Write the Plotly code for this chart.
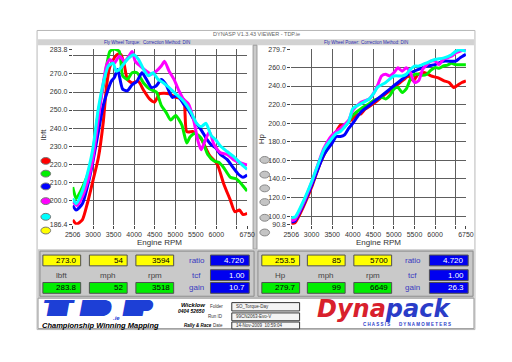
import plotly.graph_objects as go

# ---------------- data ----------------
run_colors = ["#ff0000", "#00ee00", "#0000ff", "#ff00ff", "#00ffff"]

tq_red_rpm = [2506, 2600, 2740, 2860, 3000, 3130, 3250, 3330, 3410, 3520, 3600, 3680, 3760, 3836, 3950, 4100, 4230, 4380, 4500, 4620, 4850, 5010, 5200, 5280, 5440, 5630, 5830, 6020, 6180, 6340, 6450, 6560, 6650, 6750]
tq_red = [189, 186.7, 189, 198, 211, 223.5, 243.5, 263.5, 274, 279, 281, 280.7, 275, 267, 265, 266, 261, 256, 254.4, 259, 259, 257, 256, 238, 238, 234, 225, 220, 209, 200, 193.6, 194.5, 192, 192.7]

tq_green_rpm = [2506, 2530, 2590, 2740, 2900, 3000, 3130, 3250, 3330, 3410, 3518, 3640, 3720, 3836, 3950, 4070, 4230, 4380, 4540, 4660, 4770, 4890, 5010, 5160, 5280, 5360, 5480, 5630, 5790, 5945, 6060, 6180, 6340, 6490, 6610, 6750]
tq_green = [207.2, 205, 200.8, 207, 216, 227, 249, 263.5, 274.4, 282.5, 283.8, 282.5, 269, 267, 270.7, 270.7, 265, 261.6, 260, 252.6, 249, 244.4, 247, 241.7, 231.7, 235, 237, 234.4, 225.4, 221.7, 221, 218, 212.7, 211.7, 209, 205]

tq_blue_rpm = [2506, 2590, 2740, 2900, 3000, 3130, 3250, 3370, 3445, 3520, 3600, 3720, 3836, 3950, 4070, 4190, 4300, 4420, 4540, 4660, 4770, 4930, 5050, 5200, 5320, 5480, 5630, 5750, 5870, 5985, 6100, 6260, 6410, 6530, 6650, 6750]
tq_blue = [197, 194.5, 198, 211, 221.7, 238, 252.6, 261.6, 266, 268, 272.5, 261.6, 260.7, 264, 266, 270.7, 267, 262.5, 263.5, 267, 264.4, 257, 258, 253.5, 250, 243.5, 239, 234.4, 230.8, 229, 225.4, 222.6, 218, 214.5, 212.7, 214]

tq_mag_rpm = [2506, 2610, 2740, 2900, 3000, 3130, 3250, 3330, 3410, 3520, 3640, 3760, 3875, 3950, 4030, 4150, 4300, 4420, 4540, 4660, 4740, 4850, 4970, 5090, 5200, 5320, 5440, 5555, 5630, 5710, 5830, 5945, 6100, 6260, 6410, 6570, 6750]
tq_mag = [199, 197, 201.8, 212.6, 223.5, 245, 265, 275, 278, 276, 280, 277, 280, 282.5, 277, 274.4, 271.6, 269.8, 271.6, 274.4, 277, 271.6, 267, 260.7, 256, 253.5, 245.3, 232.6, 228, 232, 238, 230.8, 226.3, 225.4, 222.6, 220.8, 219.5]

tq_cyan_rpm = [2506, 2590, 2740, 2900, 3000, 3130, 3250, 3370, 3490, 3560, 3640, 3760, 3875, 3990, 4110, 4230, 4350, 4460, 4580, 4700, 4850, 5010, 5160, 5280, 5400, 5520, 5630, 5750, 5870, 5985, 6100, 6260, 6410, 6570, 6750]
tq_cyan = [201, 198, 205, 218, 229, 250.8, 265, 274.4, 276, 271.6, 272.5, 276, 279, 280.7, 278, 272.5, 269, 270.7, 267, 265.3, 262.5, 259, 256, 252.6, 248, 242.6, 240.8, 242.6, 236, 233.5, 230, 227, 224.4, 220.8, 217]

hp_red_rpm = [2506, 2600, 2800, 3000, 3200, 3400, 3500, 3600, 3700, 3800, 3900, 4000, 4100, 4200, 4300, 4400, 4500, 4600, 4800, 5000, 5150, 5250, 5350, 5470, 5590, 5750, 5900, 6060, 6220, 6340, 6450, 6530, 6650, 6750]
hp_red = [91.5, 93, 110, 131, 156, 175, 185.6, 191, 198, 197, 201.5, 205, 209, 210, 215, 218, 221, 224.4, 231.5, 238.5, 243.8, 247.3, 250.8, 245.6, 252.6, 254.4, 250.8, 249, 245.6, 243.8, 238.5, 240.3, 243.8, 245.6]

hp_green_rpm = [2506, 2600, 2800, 3000, 3300, 3500, 3600, 3700, 3800, 4000, 4200, 4400, 4500, 4600, 4700, 4800, 4900, 5000, 5100, 5200, 5300, 5400, 5500, 5600, 5700, 5800, 5900, 6000, 6100, 6200, 6300, 6400, 6500, 6600, 6750]
hp_green = [97, 98, 114, 135, 170, 184, 191, 192.7, 196, 208.5, 215.6, 221, 224.4, 226, 228, 226, 229.7, 236.8, 238.5, 233, 236.8, 247.3, 252.6, 252.6, 251.5, 252.6, 257, 260, 259, 261.5, 262.5, 264.5, 263, 263, 263]

hp_blue_rpm = [2506, 2600, 2800, 3000, 3300, 3500, 3600, 3700, 3800, 3900, 4000, 4200, 4400, 4500, 4600, 4800, 5000, 5200, 5400, 5500, 5600, 5800, 6000, 6200, 6400, 6500, 6600, 6750]
hp_blue = [93.5, 95, 112, 133, 166, 178.6, 185.6, 185.6, 187.4, 194.4, 199.7, 212, 219, 222.6, 226, 233, 240.3, 247.3, 254.4, 256, 258, 261.4, 263, 266.7, 266.7, 266.7, 270, 274]

hp_mag_rpm = [2506, 2600, 2800, 3000, 3300, 3500, 3700, 3900, 4000, 4200, 4400, 4500, 4600, 4700, 4800, 4900, 5000, 5100, 5200, 5300, 5400, 5500, 5600, 5700, 5800, 5900, 6000, 6100, 6200, 6400, 6500, 6600, 6750]
hp_mag = [95, 96.5, 114, 136, 173, 187.4, 194.4, 203, 213.8, 222.6, 226, 231.5, 240.3, 250.8, 252.6, 250.8, 254.4, 259.6, 256, 259.6, 254.4, 243.8, 245.6, 258, 263, 266.7, 266.7, 263, 268.5, 272, 275.5, 277.3, 279.7]

hp_cyan_rpm = [2506, 2600, 2800, 3000, 3300, 3500, 3600, 3700, 3900, 4000, 4200, 4400, 4500, 4600, 4800, 5000, 5200, 5300, 5400, 5500, 5600, 5800, 6000, 6200, 6400, 6500, 6600, 6750]
hp_cyan = [98.6, 99, 116, 137, 171.5, 184, 189, 191, 201.5, 215.6, 221, 226, 231.5, 238.5, 243.8, 250.8, 250.8, 252.6, 258, 261.4, 261.4, 265, 268.5, 270, 273.7, 277.3, 279, 277.3]

rpm_ticks = [2506, 3000, 3500, 4000, 4500, 5000, 5500, 6000, 6500, 6750]
rpm_ticktext = ["2506", "3000", "3500", "4000", "4500", "5000", "5500", "6000", "", "6750"]
tq_ticks = [186.4, 200, 210, 220, 230, 240, 250, 260, 270, 280, 283.8]
tq_ticktext = ["186.4", "200.0", "210.0", "220.0", "230.0", "240.0", "250.0", "260.0", "270.0", "", "283.8"]
hp_ticks = [90.8, 100, 120, 140, 160, 180, 200, 220, 240, 260, 279.7]
hp_ticktext = ["90.8", "100.0", "120.0", "140.0", "160.0", "180.0", "200.0", "220.0", "240.0", "260.0", "279.7"]

left_yellow = ["273.0", "54", "3594"]
left_green = ["283.8", "52", "3518"]
left_blue = ["4.720", "1.00", "10.7"]
right_yellow = ["253.5", "85", "5700"]
right_green = ["279.7", "99", "6649"]
right_blue = ["4.720", "1.00", "26.3"]
left_units = ["lbft", "mph", "rpm"]
right_units = ["Hp", "mph", "rpm"]
param_names = ["ratio", "tcf", "gain"]
info_labels = ["Folder", "Run ID", "Date"]
info_values = ["SO_Torque-Day", "99CN2063-Evo-V", "14-Nov-2009  10:59:04"]

# ---------------- figure ----------------
W, H = 512, 362
def X(p): return p / W
def Y(p): return 1 - p / H

FONT = "Liberation Sans, Arial, sans-serif"
fig = go.Figure()

tq_series = [(tq_red_rpm, tq_red), (tq_green_rpm, tq_green), (tq_blue_rpm, tq_blue), (tq_mag_rpm, tq_mag), (tq_cyan_rpm, tq_cyan)]
hp_series = [(hp_red_rpm, hp_red), (hp_green_rpm, hp_green), (hp_blue_rpm, hp_blue), (hp_mag_rpm, hp_mag), (hp_cyan_rpm, hp_cyan)]
for (xs, ys), c in zip(tq_series, run_colors):
    fig.add_trace(go.Scatter(x=xs, y=ys, mode="lines", line=dict(color=c, width=3, shape="spline", smoothing=0.6),
                             xaxis="x", yaxis="y", showlegend=False, hoverinfo="skip"))
for (xs, ys), c in zip(hp_series, run_colors):
    fig.add_trace(go.Scatter(x=xs, y=ys, mode="lines", line=dict(color=c, width=3, shape="spline", smoothing=0.6),
                             xaxis="x2", yaxis="y2", showlegend=False, hoverinfo="skip"))

def xax(dom, anchor):
    return dict(domain=dom, range=[2506, 6750], tickvals=rpm_ticks, ticktext=rpm_ticktext, showgrid=True,
                gridcolor="#5e5e5e", gridwidth=1, ticks="outside", ticklen=3, tickcolor="#444",
                tickfont=dict(size=7, color="#333", family=FONT), zeroline=False, showline=False, anchor=anchor)

def yax(dom, rng, tv, tt, anchor):
    return dict(domain=dom, range=rng, tickvals=tv, ticktext=tt, showgrid=True, gridcolor="#5e5e5e", gridwidth=1,
                ticks="outside", ticklen=3, tickcolor="#444", tickfont=dict(size=7, color="#333", family=FONT),
                zeroline=False, showline=False, anchor=anchor)

shapes = []
def rect(x0, y0, x1, y1, fill, line="rgba(0,0,0,0)", lw=1, layer="below"):
    shapes.append(dict(type="rect", xref="paper", yref="paper", x0=X(x0), x1=X(x1), y0=Y(y1), y1=Y(y0),
                       fillcolor=fill, line=dict(color=line, width=lw), layer=layer))
def oval(cx, cy, w, h, fill, line="#777"):
    shapes.append(dict(type="circle", xref="paper", yref="paper", x0=X(cx - w / 2), x1=X(cx + w / 2),
                       y0=Y(cy + h / 2), y1=Y(cy - h / 2), fillcolor=fill, line=dict(color=line, width=1), layer="above"))

ann = []
def txt(x, y, s, size=7, color="#000", xanchor="center", bold=False, italic=False, family=FONT, angle=0, shadow=None):
    if bold: s = "<b>" + s + "</b>"
    if italic: s = "<i>" + s + "</i>"
    f = dict(size=size, color=color, family=family)
    if shadow: f["shadow"] = shadow
    ann.append(dict(x=X(x), y=Y(y), xref="paper", yref="paper", text=s, showarrow=False, xanchor=xanchor,
                    yanchor="middle", font=f, textangle=angle))

# window frame and panels
rect(30, 27, 482, 332, "#ffffff", "#b8b8b8")
rect(31, 36, 481, 42, "#d2d2d2")
rect(253, 42, 257, 250, "#cbcbcb", "#9a9a9a")
rect(31, 250, 481, 300, "#c9c9c9")
rect(33, 252, 254, 298, "#c9c9c9", "#8d8d8d")
rect(258, 252, 480, 298, "#c9c9c9", "#8d8d8d")
rect(31, 300, 481, 331, "#ffffff", "#9a9a9a")

txt(256, 31, "DYNASP V1.3.43 VIEWER - TDP.ie", size=5.5, color="#666")
txt(118, 39, "Fly Wheel Torque:", size=4.5, color="#2a2ab0")
txt(164, 39, "Correction Method: DIN", size=4.5, color="#2a2ab0")
txt(344, 39, "Fly Wheel Power:", size=4.5, color="#2a2ab0")
txt(389, 39, "Correction Method: DIN", size=4.5, color="#2a2ab0")

# axis titles
txt(156, 243, "Engine RPM", size=8, color="#333")
txt(382, 243, "Engine RPM", size=8, color="#333")
txt(37, 133, "lbft", size=8, color="#333", angle=-90)
txt(262, 137, "Hp", size=8, color="#333", angle=-90)

# legend ovals
for cy, c in zip([160, 173, 186, 201, 217, 231], run_colors + ["#ffff00"]):
    oval(39, cy, 10, 7, c)
for cy in [159, 174, 188, 202, 218, 233]:
    oval(265, cy, 10, 7, "#c4c4c4", "#888")

# readout boxes
def box(x0, y0, x1, y1, fill, value, tcolor):
    rect(x0, y0, x1, y1, fill, "#505050", 1, "above")
    txt(x1 - 2, (y0 + y1) / 2, value, size=8, color=tcolor, xanchor="right")

for xs0, yel, grn, blu, units, lblx, blx in [
        ([36, 84, 132], left_yellow, left_green, left_blue, left_units, 195, 209),
        ([262, 309, 357], right_yellow, right_green, right_blue, right_units, 418, 435)]:
    for i, x0 in enumerate(xs0):
        box(x0, 256, x0 + 39, 267, "#ffff00", yel[i], "#000")
        box(x0, 284, x0 + 39, 295, "#00ee00", grn[i], "#000")
        txt(x0 + 19.5, 277, units[i], size=8, color="#444")
    for j, y0 in enumerate([256, 271, 284]):
        box(blx, y0, blx + 40, y0 + 11, "#0000f0", blu[j], "#ffffff")
        txt(lblx, y0 + 5.5, param_names[j], size=8, color="#3a3ac0")

# logo strip
tdp_blue = "#1d3fd6"
smear = ", ".join(f"{k}px 0px 0px {tdp_blue}" for k in range(1, 17))
for ch, lx in zip(["T", "D", "P"], [34, 71, 116]):
    txt(lx, 311.5, ch, size=21, color=tdp_blue, xanchor="left", bold=True, italic=True,
        family="DejaVu Sans, sans-serif", shadow=smear)
txt(112, 320, ".ie", size=6, color=tdp_blue, bold=True, italic=True)
txt(33, 327.5, "Championship Winning Mapping", size=7.5, color="#000", xanchor="left", bold=True, italic=True)
txt(196, 327.5, "Rally &amp; Race", size=4.5, color="#000", bold=True, italic=True)
txt(205, 306.5, "Wicklow", size=6, color="#000", xanchor="right", bold=True, italic=True)
txt(205, 313, "0404 52650", size=5, color="#000", xanchor="right", bold=True, italic=True)
for (lab, val), (y0, y1) in zip(zip(info_labels, info_values), [(304.5, 313), (315, 323), (324.3, 331.3)]):
    txt(224, (y0 + y1) / 2, lab, size=4.5, color="#333", xanchor="right")
    rect(231, y0, 301, y1, "#f4f4f4", "#333", 1, "above")
    txt(233, (y0 + y1) / 2, val, size=4.5, color="#333", xanchor="left")
txt(388, 311, '<span style="color:#d8202c">Dyna</span><span style="color:#2a3cc8">pack</span>', size=24,
    bold=True, italic=True, family="DejaVu Sans, sans-serif")
txt(412, 327, "C H A S S I S &nbsp; &nbsp; &nbsp; D Y N A M O M E T E R S", size=4.5, color="#2a3cc8", bold=True)

fig.update_layout(
    width=W, height=H, margin=dict(l=0, r=0, t=0, b=0),
    paper_bgcolor="#ffffff", plot_bgcolor="rgba(0,0,0,0)",
    xaxis=xax([X(66.8), X(246.9)], "y"),
    yaxis=yax([Y(225), Y(46)], [186.4, 283.8], tq_ticks, tq_ticktext, "x"),
    xaxis2=xax([X(292.4), X(472.7)], "y2"),
    yaxis2=yax([Y(225), Y(46)], [90.8, 279.7], hp_ticks, hp_ticktext, "x2"),
    shapes=shapes, annotations=ann, showlegend=False,
)
fig.write_html("out.html", config={"displayModeBar": False},
               post_script="document.body.style.margin='0';document.body.style.overflow='hidden';")
